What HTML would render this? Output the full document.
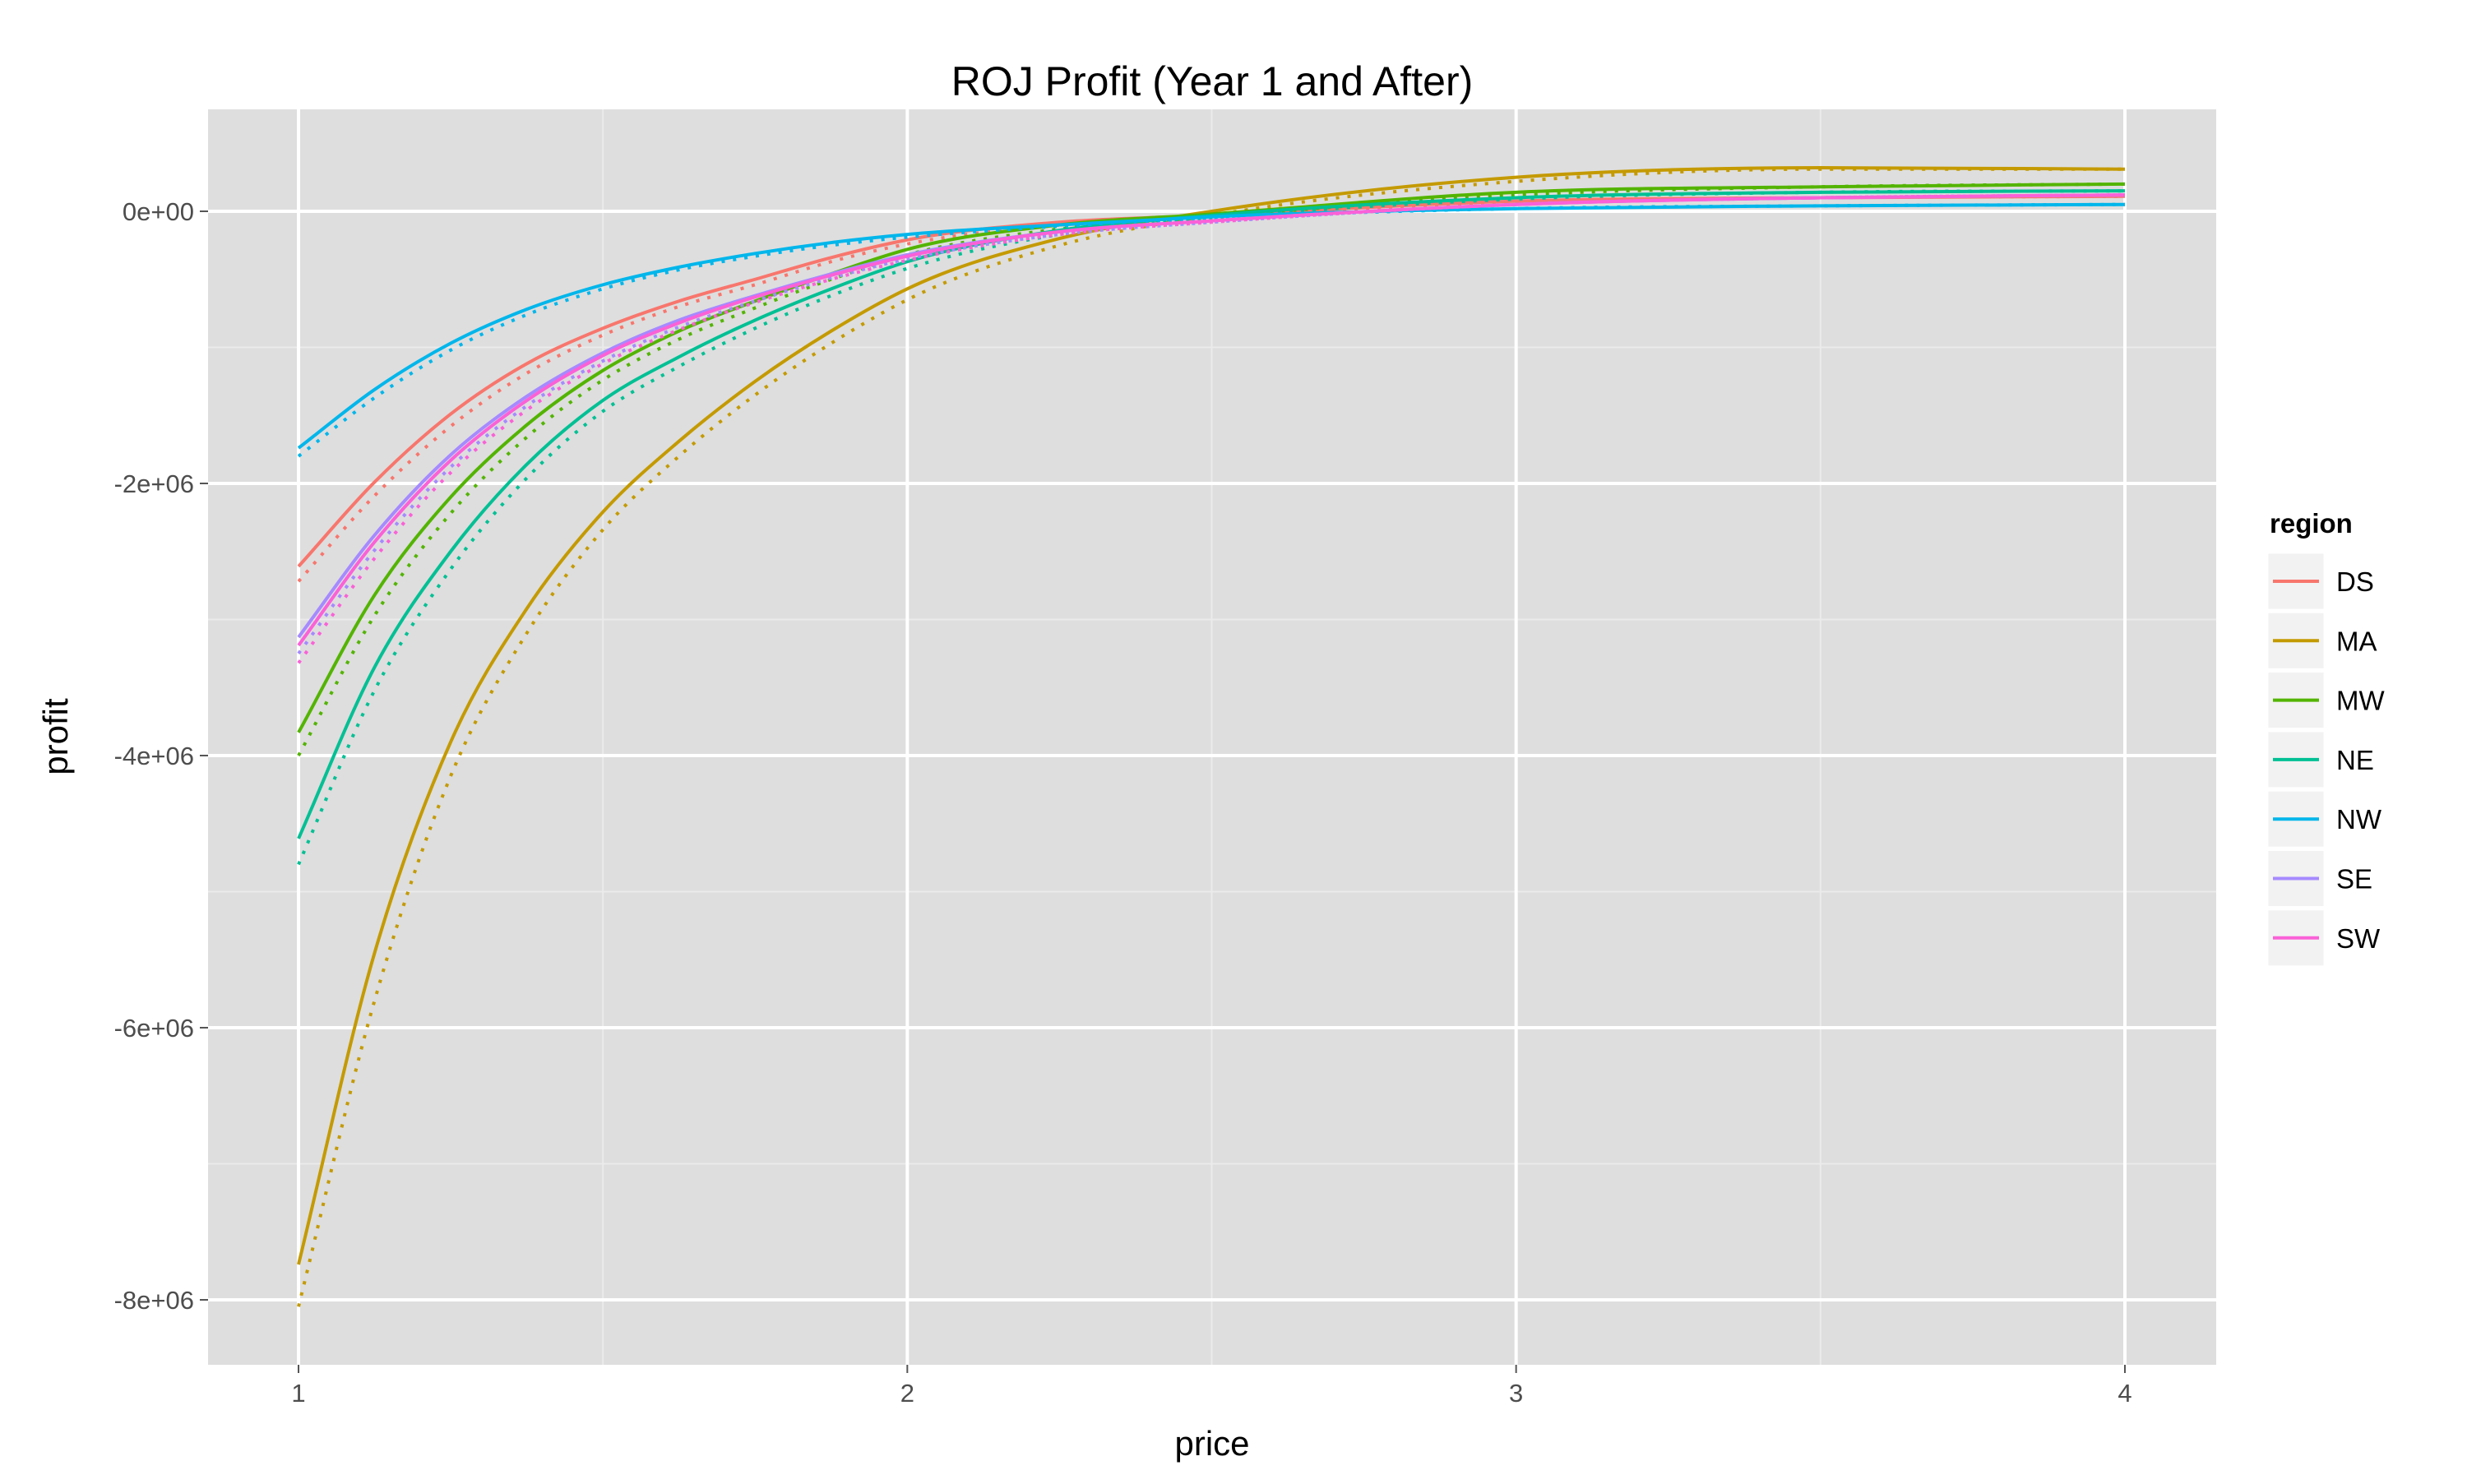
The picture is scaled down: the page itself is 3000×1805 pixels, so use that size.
<!DOCTYPE html>
<html><head><meta charset="utf-8"><style>
body{margin:0;background:#fff;}
svg text{font-family:"Liberation Sans",Arial,sans-serif;}
</style></head><body>
<svg id="chart" width="3000" height="1800" xmlns="http://www.w3.org/2000/svg">
<rect width="3000" height="1800" fill="#fff"/>
<text x="1474" y="116" font-size="50" text-anchor="middle" fill="#000">ROJ Profit (Year 1 and After)</text>
<rect x="253" y="133" width="2442" height="1527" fill="#DEDEDE"/>
<g id="grid"></g>
<g id="series"></g>
<g id="axes"></g>
<text x="1474" y="1770" font-size="42" text-anchor="middle" fill="#000">price</text>
<text transform="translate(82,896) rotate(-90)" font-size="42" text-anchor="middle" fill="#000">profit</text>
<g id="legend"></g>
</svg>
<script>
const regions=["DS","MA","MW","NE","NW","SE","SW"];
const colors=["#F8766D","#C49A00","#53B400","#00C094","#00B6EB","#A58AFF","#FB61D7"];
const prices=[1,1.125,1.25,1.375,1.5,1.625,1.75,1.875,2,2.25,2.5,3,3.5,4];
const solidDS=[-2.61,-1.99,-1.49,-1.12,-0.86,-0.66,-0.50,-0.34,-0.21,-0.08,-0.03,0.075,0.1,0.11];
const solidMA=[-7.74,-5.45,-3.90,-2.92,-2.21,-1.69,-1.25,-0.88,-0.57,-0.20,0.0,0.25,0.32,0.31];
const solidMW=[-3.83,-2.82,-2.10,-1.57,-1.17,-0.88,-0.66,-0.46,-0.28,-0.10,-0.02,0.14,0.18,0.2];
const solidNE=[-4.61,-3.35,-2.50,-1.86,-1.39,-1.07,-0.80,-0.57,-0.37,-0.14,-0.03,0.10,0.14,0.15];
const solidNW=[-1.74,-1.31,-0.97,-0.72,-0.54,-0.41,-0.31,-0.23,-0.17,-0.10,-0.04,0.02,0.04,0.05];
const solidSE=[-3.13,-2.38,-1.79,-1.36,-1.04,-0.80,-0.62,-0.46,-0.32,-0.15,-0.07,0.05,0.1,0.12];
const solidSW=[-3.19,-2.43,-1.83,-1.39,-1.06,-0.82,-0.63,-0.47,-0.33,-0.15,-0.07,0.05,0.1,0.12];
const dotDS=[-2.72,-2.09,-1.58,-1.19,-0.91,-0.70,-0.54,-0.37,-0.24,-0.10,-0.04,0.07,0.1,0.11];
const dotMA=[-8.05,-5.80,-4.15,-3.10,-2.34,-1.80,-1.35,-0.97,-0.65,-0.25,-0.03,0.22,0.31,0.31];
const dotMW=[-4.00,-2.97,-2.22,-1.66,-1.24,-0.94,-0.71,-0.50,-0.32,-0.13,-0.04,0.12,0.18,0.2];
const dotNE=[-4.80,-3.52,-2.63,-1.96,-1.47,-1.14,-0.86,-0.62,-0.42,-0.17,-0.05,0.09,0.14,0.15];
const dotNW=[-1.80,-1.37,-1.02,-0.76,-0.57,-0.43,-0.33,-0.25,-0.19,-0.11,-0.05,0.02,0.04,0.05];
const dotSE=[-3.25,-2.49,-1.88,-1.43,-1.10,-0.85,-0.66,-0.49,-0.35,-0.17,-0.08,0.05,0.1,0.12];
const dotSW=[-3.32,-2.55,-1.92,-1.46,-1.12,-0.87,-0.67,-0.50,-0.36,-0.17,-0.08,0.05,0.1,0.12];
const solids=[solidDS,solidMA,solidMW,solidNE,solidNW,solidSE,solidSW];
const dots=[dotDS,dotMA,dotMW,dotNE,dotNW,dotSE,dotSW];
const xTicks=[1,2,3,4];
const yTicks=[0,-2,-4,-6,-8];
const yTickLabels=["0e+00","-2e+06","-4e+06","-6e+06","-8e+06"];
const NS="http://www.w3.org/2000/svg";
const X=p=>363+(p-1)*(2584-363)/3;
const Y=v=>257+(-v)*(1581-257)/8;
function mk(t,a,parent){const e=document.createElementNS(NS,t);for(const k in a)e.setAttribute(k,a[k]);parent.appendChild(e);return e;}
const grid=document.getElementById('grid');
[1.5,2.5,3.5].forEach(p=>{const l=mk('line',{x1:X(p),x2:X(p),y1:133,y2:1660,stroke:'#EBEBEB','stroke-width':2},grid);

});
[-1,-3,-5,-7].forEach(v=>{const l=mk('line',{x1:253,x2:2695,y1:Y(v),y2:Y(v),stroke:'#EBEBEB','stroke-width':2},grid);

});
const axes=document.getElementById('axes');
xTicks.forEach(p=>{const l=mk('line',{x1:X(p),x2:X(p),y1:133,y2:1660,stroke:'#fff','stroke-width':4},grid);


mk('line',{x1:X(p),x2:X(p),y1:1660,y2:1670,stroke:'#555','stroke-width':2},axes);
const t=mk('text',{x:X(p),y:1705,'font-size':31,'text-anchor':'middle',fill:'#4D4D4D'},axes);t.textContent=p;

});
yTicks.forEach((v,i)=>{const l=mk('line',{x1:253,x2:2695,y1:Y(v),y2:Y(v),stroke:'#fff','stroke-width':4},grid);


mk('line',{x1:243,x2:253,y1:Y(v),y2:Y(v),stroke:'#555','stroke-width':2},axes);
const t=mk('text',{x:236,y:Y(v)+11,'font-size':31,'text-anchor':'end',fill:'#4D4D4D'},axes);t.textContent=yTickLabels[i];

});
function pathFor(vals){
  const xs=prices.map(X), ys=vals.map(Y), n=xs.length;
  const d=[],m=new Array(n);
  for(let i=0;i<n-1;i++)d.push((ys[i+1]-ys[i])/(xs[i+1]-xs[i]));
  m[0]=d[0];m[n-1]=d[n-2];
  for(let i=1;i<n-1;i++){
    if(d[i-1]*d[i]<=0)m[i]=0;
    else{const h0=xs[i]-xs[i-1],h1=xs[i+1]-xs[i];m[i]=(d[i-1]*h1+d[i]*h0)/(h0+h1);}
  }
  let s='M'+xs[0]+','+ys[0];
  for(let i=0;i<n-1;i++){
    const h=(xs[i+1]-xs[i])/3;
    s+=' C'+(xs[i]+h)+','+(ys[i]+m[i]*h)+' '+(xs[i+1]-h)+','+(ys[i+1]-m[i+1]*h)+' '+xs[i+1]+','+ys[i+1];
  }
  return s;
}
const ser=document.getElementById('series');
regions.forEach((r,i)=>{
  const d=mk('path',{d:pathFor(dots[i]),fill:'none',stroke:colors[i],'stroke-width':4,'stroke-dasharray':'4 10'},ser);
  
  
  const s=mk('path',{d:pathFor(solids[i]),fill:'none',stroke:colors[i],'stroke-width':4},ser);
  
  
});
const lg=document.getElementById('legend');
const lt=mk('text',{x:2760,y:648,'font-size':33,'font-weight':'bold',fill:'#000'},lg);lt.textContent='region';


regions.forEach((r,i)=>{
  const cy=707+i*72.3;
  const b=mk('rect',{x:2757,y:cy-35,width:70,height:70,fill:'#F2F2F2',stroke:'#fff','stroke-width':3},lg);
  
  
  mk('line',{x1:2764,x2:2820,y1:cy,y2:cy,stroke:colors[i],'stroke-width':4},lg);
  const t=mk('text',{x:2841,y:cy+12,'font-size':33,fill:'#000'},lg);t.textContent=r;
  
  
});
</script>
</body></html>
